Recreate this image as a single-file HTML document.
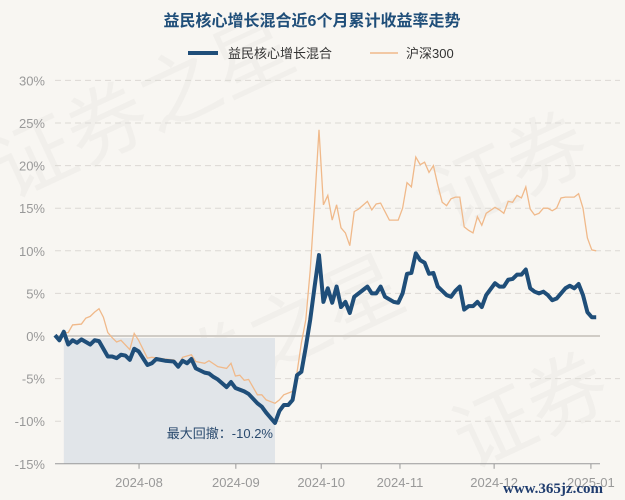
<!DOCTYPE html>
<html><head><meta charset="utf-8"><style>
body{margin:0;background:#f8f6f2;}
svg{display:block;font-family:"Liberation Sans","Noto Sans CJK SC",sans-serif;}
</style></head><body>
<svg width="625" height="500">
<rect width="625" height="500" fill="#f8f6f2"/>
<g fill="#000" opacity="0.03" font-size="80">
<text x="10" y="200" transform="rotate(-25 10 200)">证券之星</text>
<text x="120" y="440" transform="rotate(-25 120 440)">证券之星</text>
<text x="470" y="470" transform="rotate(-25 470 470)">证券</text>
<text x="450" y="230" transform="rotate(-25 450 230)">证券</text>
</g>
<text x="312" y="26" text-anchor="middle" font-size="16" font-weight="bold" fill="#1f4e79">益民核心增长混合近6个月累计收益率走势</text>
<g><line x1="188" y1="53" x2="218" y2="53" stroke="#1f4e79" stroke-width="4"/><text x="228" y="58" font-size="13" fill="#333">益民核心增长混合</text></g>
<g><line x1="370" y1="53" x2="398" y2="53" stroke="#f0b98a" stroke-width="1.5"/><text x="406" y="58" font-size="13" fill="#333">沪深300</text></g>
<g id="grid"></g><g id="area"></g><g id="lines"></g><g id="axes"></g>
<text x="503" y="493" font-family="Liberation Serif,serif" font-weight="bold" font-size="15" fill="#1f3c6e">www.365jz.com</text>
</svg>
<script>
const yTicks=[30,25,20,15,10,5,0,-5,-10,-15];
const xTickLabels=["2024-08","2024-09","2024-10","2024-11","2024-12","2025-01"];
const xTickDays=[19.1,41.1,60.5,78.4,99.8,121.8];
const fundDays=[0,1,2,3,4,5,6,8,9,10,12,13,14,15,16,17,18,19,21,22,23,25,27,28,29,30,31,32,34,35,36,37,39,40,41,43,44,46,47,48,50,51,52,53,54,55,56,57,58,59,60,61,62,63,64,65,66,67,68,70,71,72,73,74,75,77,78,79,80,81,82,83,84,85,86,87,89,90,91,92,93,94,95,96,97,98,100,101,102,103,104,105,106,107,108,109,110,111,112,113,114,116,117,118,119,120,121,122,123];
const fundVals=[0.1,-0.5,0.5,-1.0,-0.5,-0.8,-0.4,-1.0,-0.5,-0.6,-2.4,-2.4,-2.6,-2.2,-2.3,-2.8,-1.5,-1.8,-3.4,-3.2,-2.7,-2.9,-3.0,-3.6,-2.9,-3.2,-2.7,-3.8,-4.3,-4.4,-4.8,-5.1,-6.0,-5.4,-6.1,-6.5,-6.8,-7.9,-8.3,-9.0,-10.2,-8.8,-8.1,-8.1,-7.5,-4.6,-4.2,-1.3,1.9,5.8,9.5,4.0,5.6,3.9,5.8,3.4,4.0,2.7,4.6,5.4,5.8,5.0,5.0,5.8,4.6,4.0,3.9,5.0,7.3,7.4,9.7,8.9,8.6,7.3,7.4,5.8,4.8,4.6,5.3,5.8,3.1,3.5,3.5,4.0,3.4,4.8,6.2,5.8,5.8,6.6,6.7,7.2,7.2,7.8,5.6,5.2,5.0,5.2,4.8,4.2,4.4,5.6,5.9,5.6,6.1,4.8,2.8,2.2,2.2];
const hsDays=[0,1,2,3,4,6,7,8,9,10,11,12,13,14,15,17,18,19,21,22,25,27,28,29,31,32,34,35,37,39,40,41,42,43,44,46,47,48,50,51,52,54,55,56,57,58,59,60,61,62,63,64,65,66,67,68,69,71,72,73,74,76,78,79,80,81,82,83,84,85,86,87,88,89,90,91,92,93,94,95,96,97,98,100,101,102,103,104,105,106,107,108,109,110,111,112,113,114,115,116,118,119,120,121,122,123];
const hsVals=[0.1,-0.5,0.4,0.4,1.3,1.4,2.1,2.3,2.8,3.2,2.2,0.4,-0.2,-0.7,-0.5,-1.6,0.3,-0.5,-2.6,-2.5,-2.7,-2.8,-3.4,-2.5,-2.2,-3.0,-3.2,-2.9,-3.6,-3.8,-3.2,-4.7,-4.6,-5.2,-5.1,-6.9,-6.9,-7.5,-7.9,-7.5,-6.9,-6.5,-4.3,-0.8,1.9,7.7,15.6,24.2,15.4,16.5,13.6,15.4,12.7,12.1,10.6,14.6,14.9,15.8,14.8,15.5,15.6,13.6,13.6,15.0,18.0,17.5,21.0,20.1,20.4,19.2,20.0,17.7,15.7,15.3,16.1,16.3,16.3,12.8,12.4,12.1,14.0,13.0,14.4,15.1,14.8,14.4,15.8,15.7,16.5,16.2,17.5,14.9,14.2,14.4,15.0,15.0,14.7,15.0,16.2,16.3,16.3,16.7,15.0,11.5,10.1,10.0];
const ddStart=2, ddEnd=50, ddVal=-10.2;
const NS="http://www.w3.org/2000/svg";
const X0=55,X1=600,GX1=620,DX=4.4,Y0=336,PY=42.6/5;
const xs=d=>X0+d*DX, ys=v=>Y0-v*PY;
function mk(p,t,a){const e=document.createElementNS(NS,t);for(const k in a)e.setAttribute(k,a[k]);p.appendChild(e);return e;}
const grid=document.getElementById('grid'),axes=document.getElementById('axes'),area=document.getElementById('area'),lines=document.getElementById('lines');
yTicks.forEach(v=>{
 if(v!==0&&v!==-15){const l=mk(grid,'line',{x1:X0,x2:GX1,y1:ys(v),y2:ys(v),stroke:'#dcd9d4','stroke-dasharray':'6,4'});
 
 }
 const t=mk(axes,'text',{x:45,y:ys(v)+5,'text-anchor':'end','font-size':'13',fill:'#999'});t.textContent=v+'%';
 
 
});
const r=mk(area,'rect',{x:xs(ddStart),y:ys(0)+2,width:xs(ddEnd)-xs(ddStart),height:ys(-15)-ys(0)-2,fill:'#e1e5e9'});


const dl=mk(area,'text',{x:xs(ddEnd)-2,y:ys(-10.2)+15,'text-anchor':'end','font-size':'13',fill:'#2a4a6e'});dl.textContent='最大回撤：'+ddVal+'%';


const z=mk(grid,'line',{x1:X0,x2:X1,y1:ys(0),y2:ys(0),stroke:'#d0ccc6','stroke-width':2});


const hp=mk(lines,'polyline',{points:hsDays.map((d,i)=>xs(d)+','+ys(hsVals[i])).join(' '),fill:'none',stroke:'#f0b98a','stroke-width':1.3});


const fp=mk(lines,'polyline',{points:fundDays.map((d,i)=>xs(d)+','+ys(fundVals[i])).join(' '),fill:'none',stroke:'#1f4e79','stroke-width':4,'stroke-linejoin':'round'});


const ax=mk(axes,'line',{x1:X0,x2:X1,y1:ys(-15),y2:ys(-15),stroke:'#999'});


xTickLabels.forEach((s,i)=>{const x=xs(xTickDays[i]);
 const tk=mk(axes,'line',{x1:x,x2:x,y1:ys(-15),y2:ys(-15)+5,stroke:'#999'});
 
 
 const t=mk(axes,'text',{x:x,y:487,'text-anchor':'middle','font-size':'13',fill:'#999'});t.textContent=s;
 
 
});
</script>
</body></html>
